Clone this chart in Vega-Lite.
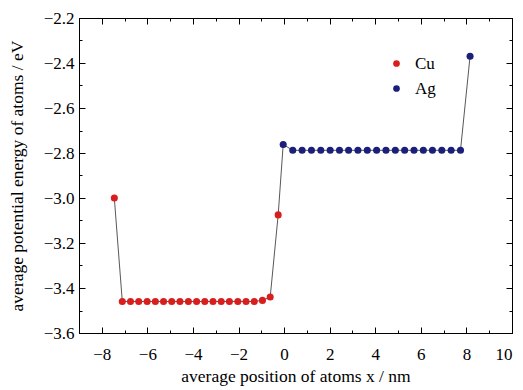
{
  "$schema": "https://vega.github.io/schema/vega-lite/v6.json",
  "width": 433,
  "height": 315,
  "autosize": {"type": "none"},
  "padding": {"left": 79, "top": 18, "right": 11, "bottom": 57},
  "background": "white",
  "config": {
    "view": {"stroke": "black", "strokeWidth": 1},
    "font": "Liberation Serif",
    "axis": {
      "domainColor": "black",
      "tickColor": "black",
      "labelColor": "black",
      "titleColor": "black",
      "labelFont": "Liberation Serif",
      "titleFont": "Liberation Serif",
      "labelFontSize": 17,
      "titleFontSize": 17.5,
      "titleFontWeight": "normal",
      "grid": false,
      "tickWidth": 1
    },
    "legend": {"labelFont": "Liberation Serif", "labelFontSize": 17, "labelColor": "black"}
  },
  "data": {
    "values": [
      {"x": -7.45, "y": -3.0, "el": "Cu"},
      {"x": -7.10, "y": -3.46, "el": "Cu"},
      {"x": -6.74, "y": -3.46, "el": "Cu"},
      {"x": -6.38, "y": -3.46, "el": "Cu"},
      {"x": -6.01, "y": -3.46, "el": "Cu"},
      {"x": -5.65, "y": -3.46, "el": "Cu"},
      {"x": -5.29, "y": -3.46, "el": "Cu"},
      {"x": -4.93, "y": -3.46, "el": "Cu"},
      {"x": -4.57, "y": -3.46, "el": "Cu"},
      {"x": -4.20, "y": -3.46, "el": "Cu"},
      {"x": -3.84, "y": -3.46, "el": "Cu"},
      {"x": -3.48, "y": -3.46, "el": "Cu"},
      {"x": -3.12, "y": -3.46, "el": "Cu"},
      {"x": -2.76, "y": -3.46, "el": "Cu"},
      {"x": -2.40, "y": -3.46, "el": "Cu"},
      {"x": -2.03, "y": -3.46, "el": "Cu"},
      {"x": -1.67, "y": -3.46, "el": "Cu"},
      {"x": -1.31, "y": -3.46, "el": "Cu"},
      {"x": -0.95, "y": -3.455, "el": "Cu"},
      {"x": -0.61, "y": -3.44, "el": "Cu"},
      {"x": -0.26, "y": -3.075, "el": "Cu"},
      {"x": -0.04, "y": -2.762, "el": "Ag"},
      {"x": 0.38, "y": -2.788, "el": "Ag"},
      {"x": 0.79, "y": -2.788, "el": "Ag"},
      {"x": 1.20, "y": -2.788, "el": "Ag"},
      {"x": 1.61, "y": -2.788, "el": "Ag"},
      {"x": 2.02, "y": -2.788, "el": "Ag"},
      {"x": 2.43, "y": -2.788, "el": "Ag"},
      {"x": 2.83, "y": -2.788, "el": "Ag"},
      {"x": 3.24, "y": -2.788, "el": "Ag"},
      {"x": 3.65, "y": -2.788, "el": "Ag"},
      {"x": 4.06, "y": -2.788, "el": "Ag"},
      {"x": 4.47, "y": -2.788, "el": "Ag"},
      {"x": 4.88, "y": -2.788, "el": "Ag"},
      {"x": 5.29, "y": -2.788, "el": "Ag"},
      {"x": 5.70, "y": -2.788, "el": "Ag"},
      {"x": 6.11, "y": -2.788, "el": "Ag"},
      {"x": 6.51, "y": -2.788, "el": "Ag"},
      {"x": 6.92, "y": -2.788, "el": "Ag"},
      {"x": 7.33, "y": -2.788, "el": "Ag"},
      {"x": 7.74, "y": -2.788, "el": "Ag"},
      {"x": 8.16, "y": -2.37, "el": "Ag"}
    ]
  },
  "resolve": {"axis": {"x": "independent", "y": "independent"}},
  "layer": [
    {
      "mark": {"type": "line", "strokeOpacity": 0},
      "encoding": {
        "x": {
          "field": "x", "type": "quantitative",
          "scale": {"domain": [-9, 10], "nice": false, "zero": false},
          "axis": {"orient": "bottom", "title": null, "labels": false, "domain": false,
            "values": [-9, -7, -5, -3, -1, 1, 3, 5, 7, 9], "tickSize": -3}
        },
        "y": {
          "field": "y", "type": "quantitative",
          "scale": {"domain": [-3.6, -2.2], "nice": false, "zero": false},
          "axis": {"orient": "left", "title": null, "labels": false, "domain": false,
            "values": [-3.5, -3.3, -3.1, -2.9, -2.7, -2.5, -2.3], "tickSize": -3}
        }
      }
    },
    {
      "mark": {"type": "line", "strokeOpacity": 0},
      "encoding": {
        "x": {
          "field": "x", "type": "quantitative",
          "axis": {"orient": "top", "title": null, "labels": false, "domain": false,
            "values": [-9, -7, -5, -3, -1, 1, 3, 5, 7, 9], "tickSize": -3}
        },
        "y": {
          "field": "y", "type": "quantitative",
          "axis": {"orient": "right", "title": null, "labels": false, "domain": false,
            "values": [-3.5, -3.3, -3.1, -2.9, -2.7, -2.5, -2.3], "tickSize": -3}
        }
      }
    },
    {
      "mark": {"type": "line", "color": "#444444", "strokeWidth": 0.9},
      "encoding": {
        "x": {
          "field": "x", "type": "quantitative",
          "axis": {
            "orient": "bottom",
            "title": "average position of atoms x / nm",
            "values": [-8, -6, -4, -2, 0, 2, 4, 6, 8, 10],
            "tickSize": -6,
            "labelPadding": 19,
            "titlePadding": 5,
            "labelFont": "Liberation Serif",
            "labelFontSize": 17,
            "titleFont": "Liberation Serif"
          }
        },
        "y": {
          "field": "y", "type": "quantitative",
          "axis": {
            "orient": "left",
            "title": "average potential energy of atoms / eV",
            "values": [-3.6, -3.4, -3.2, -3.0, -2.8, -2.6, -2.4, -2.2],
            "format": ".1f",
            "tickSize": -6,
            "labelPadding": 11,
            "titlePadding": 17,
            "labelFont": "Liberation Serif",
            "labelFontSize": 17,
            "titleFont": "Liberation Serif"
          }
        }
      }
    },
    {
      "mark": {"type": "point", "filled": true, "opacity": 1, "size": 50},
      "encoding": {
        "x": {
          "field": "x", "type": "quantitative",
          "axis": {"orient": "top", "title": null, "labels": false,
            "values": [-8, -6, -4, -2, 0, 2, 4, 6, 8, 10], "tickSize": -6}
        },
        "y": {
          "field": "y", "type": "quantitative",
          "axis": {"orient": "right", "title": null, "labels": false,
            "values": [-3.6, -3.4, -3.2, -3.0, -2.8, -2.6, -2.4, -2.2], "tickSize": -6}
        },
        "color": {
          "field": "el", "type": "nominal",
          "scale": {"domain": ["Cu", "Ag"], "range": ["#d91e1e", "#1b1f7a"]},
          "legend": {
            "title": null,
            "orient": "none",
            "legendX": 309,
            "legendY": 37,
            "symbolType": "circle",
            "symbolSize": 45,
            "rowPadding": 7,
            "labelOffset": 10
          }
        }
      }
    }
  ]
}
